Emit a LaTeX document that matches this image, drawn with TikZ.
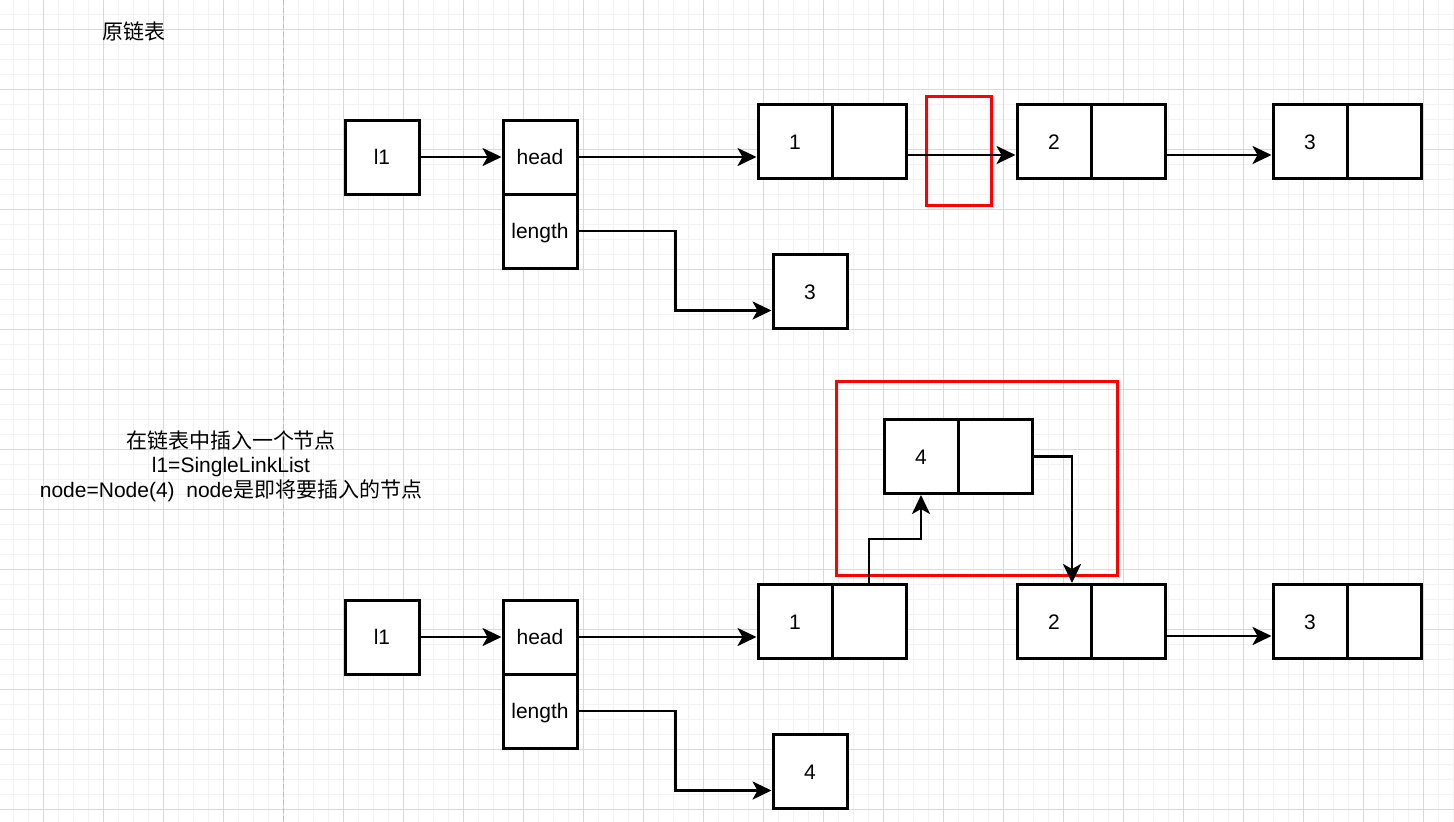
\documentclass[tikz,border=0pt]{standalone}
\usepackage{fontspec}
\setmainfont{Liberation Sans}
\newfontfamily\cjk{Noto Sans CJK SC}
\usetikzlibrary{arrows.meta}
\begin{document}
\begin{tikzpicture}[x=1pt,y=-1pt,
  box/.style={draw=black,line width=3pt,fill=white,minimum width=74pt,minimum height=74pt,inner sep=0pt,text height=15.5pt,text depth=0pt,font=\fontsize{21}{24}\selectfont},
  arr/.style={line width=2.8pt,-{Stealth[length=19pt,width=18pt,inset=5pt]}},
  redbox/.style={draw=red,line width=3pt},
  minorgrid/.style={draw=gray!10,line width=1pt},
  majorgrid/.style={draw=gray!30,line width=1pt},
  pagebreak/.style={draw=gray!50,line width=1pt,dash pattern=on 5pt off 3pt}
]
\useasboundingbox (0,0) rectangle (1454,822);
\fill[white] (0,0) rectangle (1454,822);
% grid
\foreach \x in {13,28,...,1453} \draw[minorgrid] (\x,0) -- (\x,822);
\foreach \y in {14,29,...,819} \draw[minorgrid] (0,\y) -- (1454,\y);
\foreach \x in {43,103,...,1423} \draw[majorgrid] (\x,0) -- (\x,822);
\foreach \y in {29,89,...,809} \draw[majorgrid] (0,\y) -- (1454,\y);
\draw[pagebreak] (283,0) -- (283,822);

% texts
\node[font=\cjk\fontsize{21}{24}\selectfont] (title) at (134,31) {原链表};
\node[align=center,font=\fontsize{21}{24.5}\selectfont] (desc) at (231,466)
  {{\cjk 在链表中插入一个节点}\\l1=SingleLinkList\\node=Node(4)~~node{\cjk 是即将要插入的节点}};

% top: original list
\node[box] (tl1) at (382,157) {l1};
\node[box] (thead) at (540,157) {head};
\node[box] (tlen) at (540,231) {length};
\node[box] (t1a) at (795,141.5) {1};
\node[box] (t1b) at (869,141.5) {};
\node[box] (t2a) at (1054,141.5) {2};
\node[box] (t2b) at (1128,141.5) {};
\node[box] (t3a) at (1310,141.5) {3};
\node[box] (t3b) at (1384,141.5) {};
\node[box] (tval) at (810,291.5) {3};
\draw[redbox] (926.5,96.5) rectangle (991.5,205.5);

\draw[arr] (tl1.east) -- (thead.west);
\draw[arr] (thead.east) -- ([yshift=-15.5pt]t1a.west);
\draw[arr] ([yshift=-13.5pt]t1b.east) -- ([yshift=-13.5pt]t2a.west);
\draw[arr] ([yshift=-13.5pt]t2b.east) -- ([yshift=-13.5pt]t3a.west);
\draw[arr] (tlen.east) -- ++(97,0) |- ([yshift=-19pt]tval.west);

% bottom: inserting a node
\node[box] (bl1) at (382,637) {l1};
\node[box] (bhead) at (540,637) {head};
\node[box] (blen) at (540,711) {length};
\node[box] (b1a) at (795,621.5) {1};
\node[box] (b1b) at (869,621.5) {};
\node[box] (b2a) at (1054,621.5) {2};
\node[box] (b2b) at (1128,621.5) {};
\node[box] (b3a) at (1310,621.5) {3};
\node[box] (b3b) at (1384,621.5) {};
\node[box] (bval) at (810,771.5) {4};
\node[box] (b4a) at (921,456.5) {4};
\node[box] (b4b) at (995,456.5) {};
\draw[redbox] (836.5,381.5) rectangle (1117.5,575.5);

\draw[arr] (bl1.east) -- (bhead.west);
\draw[arr] (bhead.east) -- ([yshift=-15.5pt]b1a.west);
\draw[arr] ([yshift=-14.5pt]b2b.east) -- ([yshift=-14.5pt]b3a.west);
\draw[arr] (blen.east) -- ++(97,0) |- ([yshift=-19pt]bval.west);
\draw[arr] (b1b.north) -- ++(0,-44) -| (b4a.south);
\draw[arr] (b4b.east) -| ([xshift=18pt]b2a.north);
\end{tikzpicture}
\end{document}
